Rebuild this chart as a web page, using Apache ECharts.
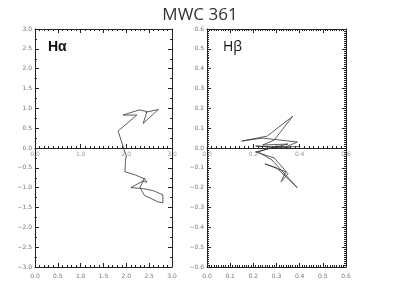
<!DOCTYPE html>
<html><head><meta charset="utf-8">
<script src="https://cdn.jsdelivr.net/npm/echarts@6/dist/echarts.min.js"></script>
<style>html,body{margin:0;padding:0;background:#fff}#c{width:400px;height:300px}</style>
</head><body><div id="c"></div>
<script>
// Hα trajectory (x, y)
const haX = [2.42,2.70,2.37,2.45,2.28,1.93,2.23,2.19,1.82,1.93,2.00,1.98,1.97,2.20,2.40,2.45,2.35,2.10,2.35,2.60,2.80,2.80,2.70,2.40,2.30,2.40];
const haY = [0.90,0.97,0.62,0.92,0.96,0.83,0.83,0.81,0.43,0.03,-0.20,-0.32,-0.60,-0.68,-0.78,-0.86,-0.84,-1.00,-1.02,-1.08,-1.18,-1.38,-1.36,-1.20,-1.00,-0.75];
// Hβ trajectory
const hbX = [0.40,0.30,0.21,0.33,0.39,0.24,0.15,0.26,0.37,0.29,0.24,0.35,0.28,0.21,0.29,0.35,0.32,0.34,0.25,0.30,0.39,0.28,0.22,0.30,0.36];
const hbY = [0.007,0.005,0.01,0.0,0.03,0.05,0.035,0.06,0.16,0.04,0.015,0.02,0.0,-0.02,-0.05,-0.13,-0.17,-0.12,-0.08,-0.10,-0.20,-0.06,-0.02,0.01,0.0];
const titleText = 'MWC 361';
const panelLabels = ['Hα', 'Hβ'];

const ch = echarts.init(document.getElementById('c'), null, {renderer:'canvas'});
const lab = {color:'#777', fontSize:6, fontFamily:'DejaVu Sans'};
const ls = {color:'#222', width:1};
function ax(gi, min, max, itv, splitN, pos, showLab, dec, margin, color){
  return {gridIndex:gi, type:'value', min, max, interval:itv, position:pos,
    axisLine:{onZero:false, lineStyle:ls},
    axisTick:{inside:true, length:4, lineStyle:{color:'#222'}},
    minorTick:{show:true, splitNumber:splitN, length:2, lineStyle:{color:'#222'}},
    splitLine:{show:false},
    axisLabel:Object.assign({show:showLab, margin:margin, formatter:v=>v.toFixed(dec).replace('-','−'), showMinLabel:true, showMaxLabel:true}, lab, color?{color}:{})};
}
function hiddenY(gi){
  return {gridIndex:gi, type:'value', min:0, max:1, show:false};
}
ch.setOption({
  animation:false,
  title:{text:titleText, left:'center', top:2, textStyle:{fontFamily:'Open Sans', fontWeight:'normal', fontSize:17, color:'#333'}},
  graphic:[
    {type:'text', left:48, top:40, style:{text:panelLabels[0], font:'bold 14px "Liberation Sans"', fill:'#111'}},
    {type:'text', left:223, top:40, style:{text:panelLabels[1], font:'14px "Open Sans"', fill:'#111'}}
  ],
  grid:[
    {left:35, top:29, width:137, height:238},
    {left:207, top:29, width:139, height:238},
    {left:35, top:29, width:137, height:119},
    {left:207, top:29, width:139, height:119}
  ],
  xAxis:[
    ax(0,0,3,0.5,5,'bottom',true,1,6),
    ax(0,0,3,0.5,5,'top',false,1,6),
    ax(1,0,0.6,0.1,10,'bottom',true,1,6),
    ax(1,0,0.6,0.1,10,'top',false,1,6),
    ax(2,0,3,1,10,'bottom',true,1,3,'#999'),
    ax(3,0,0.6,0.2,10,'bottom',true,1,3,'#999')
  ],
  yAxis:[
    ax(0,-3,3,0.5,2,'left',true,1,3),
    ax(0,-3,3,0.5,2,'right',false,1,3),
    ax(1,-0.6,0.6,0.1,10,'left',true,1,3),
    ax(1,-0.6,0.6,0.1,10,'right',false,1,3),
    hiddenY(2),
    hiddenY(3)
  ],
  series:[
    {type:'line', xAxisIndex:0, yAxisIndex:0, data:haX.map((x,i)=>[x,haY[i]]), showSymbol:false, lineStyle:{color:'#333', width:0.8}},
    {type:'line', xAxisIndex:2, yAxisIndex:2, data:hbX.map((x,i)=>[x,hbY[i]]), showSymbol:false, lineStyle:{color:'#333', width:0.8}}
  ]
});
</script></body></html>
